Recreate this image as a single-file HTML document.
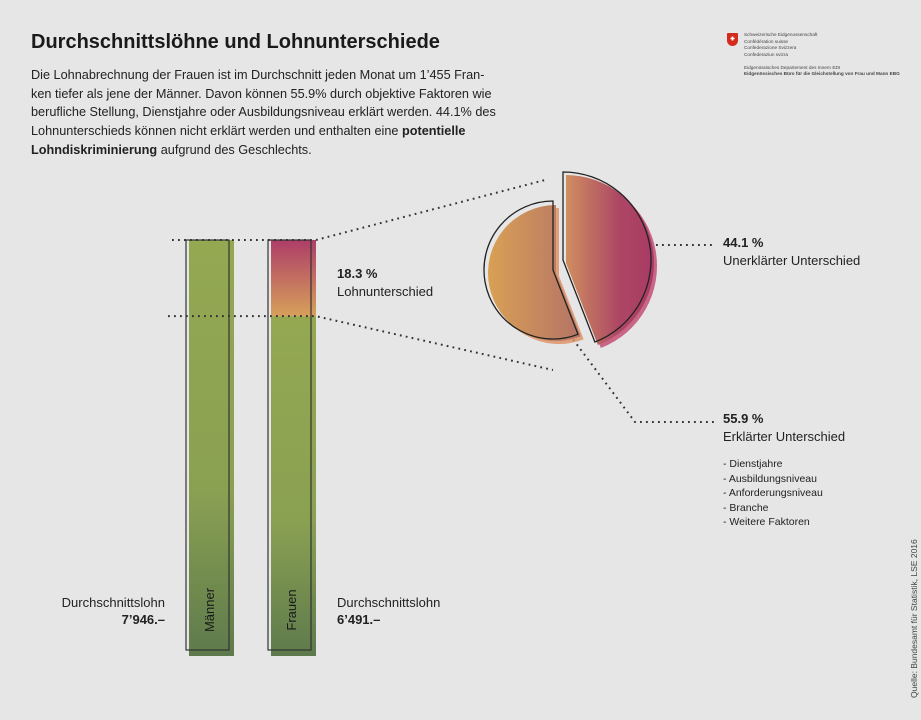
<!DOCTYPE html>
<html><head><meta charset="utf-8"><style>
body{margin:0;background:#e6e6e6;}
#root{position:relative;width:921px;height:720px;overflow:hidden;background:#e6e6e6;font-family:"Liberation Sans",sans-serif;color:#222;}
.t{position:absolute;white-space:nowrap;}
</style></head><body>
<div id="root">
<div class="t" style="left:31px;top:31px;font-size:20px;font-weight:bold;color:#1a1a1a;">Durchschnittslöhne und Lohnunterschiede</div>
<div class="t" style="left:31px;top:66px;font-size:12.7px;line-height:18.7px;color:#222;">Die Lohnabrechnung der Frauen ist im Durchschnitt jeden Monat um 1’455 Fran-<br>ken tiefer als jene der Männer. Davon können 55.9% durch objektive Faktoren wie<br>berufliche Stellung, Dienstjahre oder Ausbildungsniveau erklärt werden. 44.1% des<br>Lohnunterschieds können nicht erklärt werden und enthalten eine <b>potentielle</b><br><b>Lohndiskriminierung</b> aufgrund des Geschlechts.</div>
<div style="position:absolute;left:727px;top:33px;width:11px;height:13px;background:#d52b1e;border-radius:1px 1px 6px 6px;"></div>
<div class="t" style="left:744px;top:32px;font-size:4.7px;line-height:6.5px;color:#444;">Schweizerische Eidgenossenschaft<br>Confédération suisse<br>Confederazione Svizzera<br>Confederaziun svizra<br><br>Eidgenössisches Departement des Innern EDI<br><b>Eidgenössisches Büro für die Gleichstellung von Frau und Mann EBG</b></div>
<div class="t" style="left:337px;top:265px;font-size:13px;line-height:18px;"><b>18.3 %</b><br>Lohnunterschied</div>
<div class="t" style="left:723px;top:234px;font-size:13px;line-height:18px;"><b>44.1 %</b><br>Unerklärter Unterschied</div>
<div class="t" style="left:723px;top:410px;font-size:13px;line-height:18px;"><b>55.9 %</b><br>Erklärter Unterschied</div>
<div class="t" style="left:723px;top:457px;font-size:10.5px;line-height:14.6px;">- Dienstjahre<br>- Ausbildungsniveau<br>- Anforderungsniveau<br>- Branche<br>- Weitere Faktoren</div>
<div class="t" style="right:756px;top:594px;font-size:13px;line-height:17px;text-align:right;">Durchschnittslohn<br><b>7’946.–</b></div>
<div class="t" style="left:337px;top:594px;font-size:13px;line-height:17px;">Durchschnittslohn<br><b>6’491.–</b></div>
<div class="t" style="left:909px;top:698px;font-size:8.5px;color:#444;transform:rotate(-90deg);transform-origin:0 0;">Quelle: Bundesamt für Statistik, LSE 2016</div>
<svg id="chart" width="921" height="720" style="position:absolute;left:0;top:0;">
<defs>
<linearGradient id="gGreen" x1="0" y1="0" x2="0" y2="1"><stop offset="0" stop-color="#94a852"/><stop offset="0.6" stop-color="#8aa152"/><stop offset="1" stop-color="#5e7a4c"/></linearGradient>
<linearGradient id="gGap" x1="0" y1="0" x2="0" y2="1"><stop offset="0" stop-color="#ad3d68"/><stop offset="1" stop-color="#d7a05a"/></linearGradient>
<linearGradient id="gPink" x1="0" y1="0" x2="1" y2="0"><stop offset="0" stop-color="#cf8e5f"/><stop offset="0.6" stop-color="#ad4765"/><stop offset="1" stop-color="#a83a64"/></linearGradient>
<linearGradient id="gOr" x1="0" y1="0" x2="1" y2="0"><stop offset="0" stop-color="#d9a055"/><stop offset="1" stop-color="#b47366"/></linearGradient>
</defs>
</svg>
</div>
<script>
const categories = ["Männer", "Frauen"];
const wages = [7946, 6491];
const shareLabels = ["Erklärter Unterschied", "Unerklärter Unterschied"];
const shares = [55.9, 44.1];

const NS = "http://www.w3.org/2000/svg";
const svg = document.getElementById("chart");
function mk(tag, attrs){const e=document.createElementNS(NS,tag);for(const k in attrs)e.setAttribute(k,attrs[k]);svg.appendChild(e);return e;}

const base = 656, topY = 240, maxH = base - topY;
const maxW = Math.max(...wages);
const y = v => base - v / maxW * maxH;
const barX = [189, 271], bw = 45;

wages.forEach((w, i) => {
  const x = barX[i];
  const r = mk("rect", {x:x, y:y(w), width:bw, height:base - y(w), fill:"url(#gGreen)"});
  
  
  if (w < maxW) {
    const g = mk("rect", {x:x, y:y(maxW), width:bw, height:y(w) - y(maxW), fill:"url(#gGap)"});
    
    
  }
  const o = mk("rect", {x:x - 3, y:y(maxW), width:bw - 2, height:maxH - 6, fill:"none", stroke:"#333", "stroke-width":1.2});
  
  
  const t = mk("text", {x:0, y:0, transform:`translate(${x + bw/2 - 1},${base - 46}) rotate(-90)`, "font-size":"13", "font-family":"Liberation Sans, sans-serif", fill:"#1a1a1a", "text-anchor":"middle", "dominant-baseline":"middle"});
  t.textContent = categories[i];
  
  
});

// dotted guide lines
const dots = {stroke:"#333", "stroke-width":2, "stroke-dasharray":"1.8 4.2", fill:"none"};
const gapTop = y(maxW), gapBot = y(wages[1]);
[[`M172 ${gapTop} L316 ${gapTop} L545 180`],[`M168 ${gapBot} L316 ${gapBot} L553 370`],["M608 245 L716 245"],["M566 330 L635 422 L716 422"]].forEach(d=>{
  const p = mk("path", Object.assign({d:d[0]}, dots));
  
  
});

// pie slices
const total = shares.reduce((a,b)=>a+b,0);
const unexplAng = shares[1] / total * 360;
function arc(cx, cy, r, a0, a1){
  const p = a => [cx + r*Math.sin(a*Math.PI/180), cy - r*Math.cos(a*Math.PI/180)];
  const s = p(a0), e = p(a1), large = (a1 - a0) > 180 ? 1 : 0;
  return `M${cx} ${cy} L${s[0]} ${s[1]} A${r} ${r} 0 ${large} 1 ${e[0]} ${e[1]} Z`;
}
const pc = [566, 263], pr = 88;
let e;
e = mk("path", {d:arc(pc[0]+3, pc[1]+3, pr, 0, unexplAng), fill:"#c2456d", opacity:0.8});
 
e = mk("path", {d:arc(pc[0], pc[1], pr, 0, unexplAng), fill:"url(#gPink)"});
 
e = mk("path", {d:arc(pc[0]-3, pc[1]-3, pr, 0, unexplAng), fill:"none", stroke:"#222", "stroke-width":1.3});
 
const oc = [556, 273], orr = 68;
e = mk("path", {d:arc(oc[0]+3, oc[1]+3, orr, unexplAng, 360), fill:"#de8f62", opacity:0.8});
 
e = mk("path", {d:arc(oc[0], oc[1], orr, unexplAng, 360), fill:"url(#gOr)"});
 
e = mk("path", {d:arc(oc[0]-3, oc[1]-3, orr+1, unexplAng, 360), fill:"none", stroke:"#222", "stroke-width":1.3});
 
e = mk("path", {d:"M730.5 38.5h4M732.5 36.5v4", stroke:"#fff", "stroke-width":1.6});
 
</script>
</body></html>
